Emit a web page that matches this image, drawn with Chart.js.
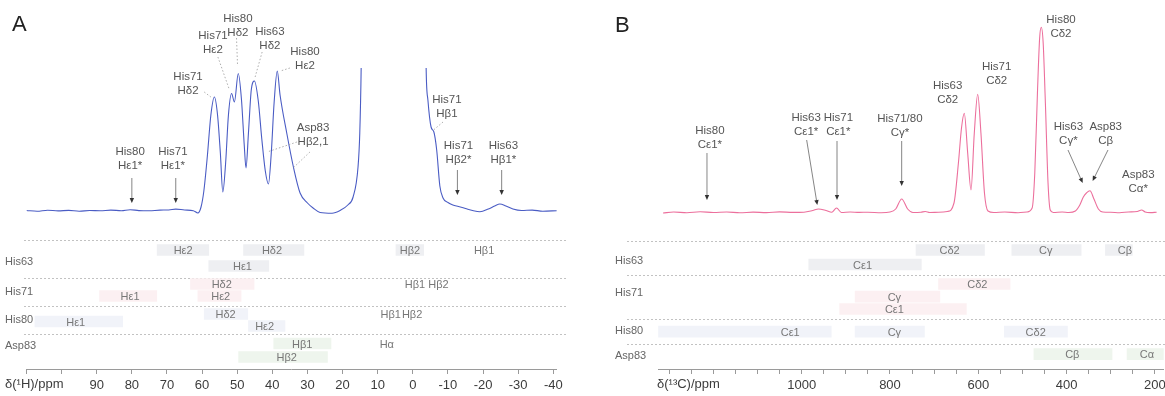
<!DOCTYPE html>
<html lang="en">
<head>
<meta charset="UTF-8">
<title>Paramagnetic shifts – His63/71/80, Asp83</title>
<script src="https://cdn.jsdelivr.net/npm/chart.js"></script>
<style>
  body { margin: 0; background: #fff; }
  #wrap { position: relative; width: 1165px; height: 396px; overflow: hidden; }
  #wrap canvas { position: absolute; }
</style>
</head>
<body>
<div id="wrap">
  <canvas id="specA" width="580" height="232" style="left:0;top:0"></canvas>
  <canvas id="barsA" width="580" height="164" style="left:0;top:232px"></canvas>
  <canvas id="specB" width="565" height="232" style="left:600px;top:0"></canvas>
  <canvas id="barsB" width="565" height="164" style="left:600px;top:232px"></canvas>
</div>
<script>
// ---- spectrum A: 1H shift (ppm) and intensity
const ppmA = [110, 107, 104, 101, 98, 95, 92, 89, 86, 83,
  80.5, 78, 75, 72, 69.5, 67.5, 65, 62.5, 61.2, 60.3,
  59.5, 58.5, 57.5, 56.5, 55.6, 54.8, 54.1, 53.3, 52.5, 51.6,
  50.8, 49.7, 48.8, 48.0, 47.5, 46.8, 46.0, 45.1, 44.0, 43.0,
  42.0, 41.1, 40.3, 39.5, 38.6, 37.8, 35.9, 34.0, 32.1, 30.0,
  28.4, 26.4, 23.0, 20.7, 18.5, 17.0, 15.6, 15.1, 14.7, 14.0,
  12.0, 5.0, 0.0, -2.0, -3.0, -3.8, -4.3, -5.2, -6.0, -6.8,
  -7.7, -8.6, -10.0, -11.4, -13.0, -15.0, -17.0, -19.1, -21.5, -23.3,
  -24.8, -26.5, -28.5, -31.0, -34.0, -37.0, -41.0];
const intA = [0.5, -0.3, 0.8, 0.1, 0.6, -0.2, 0.5, 0.2, 0.9, 0.3,
  1.3, 0.4, 0.2, 0.9, 1.0, 1.9, 1.0, 0.3, -2.0, 4,
  20, 55, 96, 114, 96, 58, 19, 48, 96, 117.5,
  109, 137.5, 112, 66, 43, 78, 121, 130, 110, 72,
  40, 27, 58, 108, 140, 116, 78, 44, 18, 8,
  3, -1.5, -2.2, 0.5, 6, 14, 44, 78, 145, 400,
  1500, 3000, 2500, 1000, 400, 142, 111, 84, 79, 61,
  25, 13, 8.5, 6, 4.5, 2.5, 0.5, -0.7, 2, 5,
  7, 5, 2, 0.5, 0.9, -0.2, 0.3];

// ---- spectrum B: 13C shift (ppm) and intensity
const ppmB = [1314, 1290, 1260, 1230, 1200, 1170, 1140, 1110, 1080, 1050,
  1020, 995, 975, 962, 945, 932, 921, 910, 890, 870,
  850, 820, 800, 787, 773.5, 760, 748, 730, 720, 710,
  690, 670, 655, 645, 638, 631.7, 624, 616.5, 609, 601.3,
  594, 586, 578, 565, 540, 510, 490, 478, 472, 466,
  461, 457.3, 453, 448, 442, 437, 430, 410, 395, 380,
  370, 362, 355, 347, 338, 328, 318, 300, 280, 260,
  240, 230, 222, 210, 196];
const intB = [0, 1, 0.3, 1.2, 0.5, 1, 0.2, 0.9, 0.4, 1.1,
  0.6, 0.8, 2.5, 4, 2.5, 0.8, 5, 0.5, 1, 0.6,
  0.8, 0.3, 1, 4, 14, 4, 0.5, 0.8, 1.5, 0.5,
  0.8, 1.5, 10, 50, 85, 99.7, 60, 23, 80, 118.7,
  80, 20, 2, 0.5, 1, 0.3, 1, 5, 40, 120,
  175, 185.7, 170, 110, 30, 3, 0.5, 1, 0.5, 2,
  8, 16, 20, 22.3, 14, 4, 1, 0.8, 0.3, 1,
  1.5, 3, 1, 0.4, 0.8];

// ---- predicted shift ranges, panel A (1H)
const residues = ['His63', 'His71', 'His80', 'Asp83'];
const barResA = ['His63', 'His63', 'His63', 'His63', 'His71', 'His71', 'His71', 'His80', 'His80', 'His80', 'Asp83', 'Asp83'];
const barAtomA = ['Hε2', 'Hδ2', 'Hβ2', 'Hε1', 'Hδ2', 'Hε2', 'Hε1', 'Hδ2', 'Hε1', 'Hε2', 'Hβ1', 'Hβ2'];
const barRowA = [0, 0, 0, 1, 0, 1, 1, 0, 1, 2, 0, 1];
const barFromA = [72.8, 48.2, 4.8, 58.1, 63.3, 61.2, 89.2, 59.4, 107.6, 46.8, 39.6, 49.6];
const barToA = [58.1, 31.0, -3.1, 41.0, 45.2, 48.9, 72.9, 47.0, 82.6, 36.4, 23.3, 24.3];
const barTagA = [65.4, 40.1, 0.8, 48.5, 54.4, 54.7, 80.5, 53.3, 96.0, 42.2, 31.5, 35.9];
// shifts given as text only
const tagResA = ['His63', 'His71', 'His71', 'His80', 'His80', 'Asp83'];
const tagAtomA = ['Hβ1', 'Hβ1', 'Hβ2', 'Hβ1', 'Hβ2', 'Hα'];
const tagRowA = [0, 0, 0, 0, 0, 0];
const tagPpmA = [-20.3, -0.6, -7.3, 6.3, 0.2, 7.4];

// ---- predicted shift ranges, panel B (13C)
const barResB = ['His63', 'His63', 'His63', 'His63', 'His71', 'His71', 'His71', 'His80', 'His80', 'His80', 'Asp83', 'Asp83'];
const barAtomB = ['Cδ2', 'Cγ', 'Cβ', 'Cε1', 'Cδ2', 'Cγ', 'Cε1', 'Cε1', 'Cγ', 'Cδ2', 'Cβ', 'Cα'];
const barRowB = [0, 0, 0, 1, 0, 1, 2, 0, 0, 0, 0, 0];
const barFromB = [741, 524, 312, 984, 690, 879, 914, 1340, 879, 541, 474, 263];
const barToB = [586, 367, 251, 729, 528, 687, 627, 933, 722, 398, 297, 150];
const barTagB = [665, 447, 268, 862, 602, 790, 790, 1026, 790, 470, 387, 218];

// ---- tick labels
const tickLabelsA = [90, 80, 70, 60, 50, 40, 30, 20, 10, 0, -10, -20, -30, -40];
const tickLabelsB = [1000, 800, 600, 400, 200];

// ---- peak annotations (ppm, intensity)
const notesA = [
  { text: ['His80', 'Hε1*'], at: [80.5, 59], arrow: [[80, 33], [80, 8]] },
  { text: ['His71', 'Hε1*'], at: [68.3, 59], arrow: [[67.5, 33], [67.5, 8]] },
  { text: ['His71', 'Hδ2'], at: [64.0, 134], dots: [[[59.4, 119], [57.5, 114]]] },
  { text: ['His71', 'Hε2'], at: [56.9, 175], dots: [[[55.5, 154], [52.2, 121]]] },
  { text: ['His80', 'Hδ2'], at: [49.8, 192], dots: [[[50.2, 173], [49.9, 145]]] },
  { text: ['His63', 'Hδ2'], at: [40.7, 179], dots: [[[42.9, 159], [44.9, 134]]] },
  { text: ['His80', 'Hε2'], at: [30.7, 159], dots: [[[35, 143], [37.7, 140]]] },
  { text: ['Asp83', 'Hβ2,1'], at: [28.4, 83], dots: [[[33, 69], [41.5, 59]], [[29.3, 59], [34.1, 43]]] },
  { text: ['His71', 'Hβ1'], at: [-9.7, 111], dots: [[[-8.6, 89], [-5.9, 81]]] },
  { text: ['His71', 'Hβ2*'], at: [-13.0, 65], arrow: [[-12.7, 41], [-12.7, 16]] },
  { text: ['His63', 'Hβ1*'], at: [-25.8, 65], arrow: [[-25.3, 41], [-25.3, 16]] }
];
const notesB = [
  { text: ['His80', 'Cε1*'], at: [1207.8, 82], arrow: [[1214.5, 60], [1214.5, 13]] },
  { text: ['His63', 'Cε1*'], at: [990, 95], arrow: [[988.7, 73], [964.7, 8]] },
  { text: ['His71', 'Cε1*'], at: [917, 95], arrow: [[920, 72], [920, 13]] },
  { text: ['His71/80', 'Cγ*'], at: [777.5, 94], arrow: [[773.5, 72], [773.5, 27]] },
  { text: ['His63', 'Cδ2'], at: [669.3, 127] },
  { text: ['His71', 'Cδ2'], at: [558.3, 146] },
  { text: ['His80', 'Cδ2'], at: [412.7, 193] },
  { text: ['His63', 'Cγ*'], at: [396, 86], arrow: [[396.8, 63], [363.5, 30]] },
  { text: ['Asp83', 'Cβ'], at: [311.4, 86], arrow: [[306.2, 63], [341, 32]] },
  { text: ['Asp83', 'Cα*'], at: [237.6, 38] }
];

// ---- layout of the range rows (y units of the bar charts, 0 = top)
const FONT = '"Liberation Sans", Arial, sans-serif';
const resColor = { His63: '#eeeff2', His71: '#fcf0f2', His80: '#f1f3f9', Asp83: '#eef5ed' };
const layoutA = {
  lanes: { His63: [12, 28], His71: [46, 58], His80: [76, 83.5, 88], Asp83: [105.5, 119] },
  names: { His63: 24, His71: 54, His80: 82, Asp83: 108 },
  seps: [2, 40, 68, 96], nameX: 5, sepX: [24, 567], titleX: 5, title: 'δ(¹H)/ppm'
};
const layoutB = {
  lanes: { His63: [12, 26.5], His71: [46, 58.6, 71], His80: [93.6], Asp83: [116.1] },
  names: { His63: 23, His71: 55, His80: 93, Asp83: 117.5 },
  seps: [3, 36.7, 80.7, 106.2], nameX: 15, sepX: [27, 565], titleX: 57, title: 'δ(¹³C)/ppm'
};

function notesPlugin(notes, letter, letterPos) {
  return {
    id: 'notes',
    afterDatasetsDraw(chart) {
      const { ctx, scales: { x, y } } = chart;
      const P = p => [x.getPixelForValue(p[0]), y.getPixelForValue(p[1])];
      ctx.save();
      ctx.font = '11.5px ' + FONT;
      ctx.textAlign = 'center';
      ctx.textBaseline = 'middle';
      notes.forEach(n => {
        const [tx, ty] = P(n.at);
        ctx.fillStyle = '#555';
        n.text.forEach((t, i) => ctx.fillText(t, tx, ty + i * 14));
        (n.dots || []).forEach(seg => {
          const a = P(seg[0]), b = P(seg[1]);
          ctx.save();
          ctx.strokeStyle = '#9a9a9a';
          ctx.lineWidth = 0.8;
          ctx.setLineDash([1.5, 2]);
          ctx.beginPath(); ctx.moveTo(a[0], a[1]); ctx.lineTo(b[0], b[1]); ctx.stroke();
          ctx.restore();
        });
        if (n.arrow) {
          const a = P(n.arrow[0]), b = P(n.arrow[1]);
          const ang = Math.atan2(b[1] - a[1], b[0] - a[0]);
          ctx.save();
          ctx.strokeStyle = '#666';
          ctx.fillStyle = '#333';
          ctx.lineWidth = 0.8;
          ctx.beginPath();
          ctx.moveTo(a[0], a[1]);
          ctx.lineTo(b[0] - 4 * Math.cos(ang), b[1] - 4 * Math.sin(ang));
          ctx.stroke();
          ctx.translate(b[0], b[1]);
          ctx.rotate(ang);
          ctx.beginPath(); ctx.moveTo(0, 0); ctx.lineTo(-5, -2.2); ctx.lineTo(-5, 2.2); ctx.closePath(); ctx.fill();
          ctx.restore();
        }
      });
      ctx.font = '22px ' + FONT;
      ctx.fillStyle = '#222';
      ctx.textAlign = 'left';
      ctx.textBaseline = 'alphabetic';
      ctx.fillText(letter, letterPos[0], letterPos[1]);
      ctx.restore();
    }
  };
}

function spectrum(id, xs, ys, color, xr, yr, pad, notes, letter, letterPos) {
  return new Chart(document.getElementById(id), {
    type: 'line',
    data: {
      datasets: [{
        data: xs.map((v, i) => ({ x: v, y: ys[i] })),
        borderColor: color,
        borderWidth: 1.1,
        pointRadius: 0,
        fill: false,
        cubicInterpolationMode: 'monotone'
      }]
    },
    options: {
      responsive: false,
      animation: false,
      events: [],
      layout: { padding: pad },
      plugins: { legend: { display: false }, tooltip: { enabled: false } },
      scales: {
        x: { type: 'linear', reverse: true, min: xr[0], max: xr[1], display: false },
        y: { type: 'linear', min: yr[0], max: yr[1], display: false }
      }
    },
    plugins: [notesPlugin(notes, letter, letterPos)]
  });
}

function lanePlugin(L, tags) {
  return {
    id: 'lanes',
    beforeDatasetsDraw(chart) {
      const { ctx, scales: { y } } = chart;
      ctx.save();
      ctx.strokeStyle = '#c2c2c2';
      ctx.lineWidth = 1;
      ctx.setLineDash([2, 2]);
      L.seps.forEach(s => {
        const py = Math.round(y.getPixelForValue(s)) + 0.5;
        ctx.beginPath(); ctx.moveTo(L.sepX[0], py); ctx.lineTo(L.sepX[1], py); ctx.stroke();
      });
      ctx.restore();
    },
    afterDatasetsDraw(chart) {
      const { ctx, scales: { x, y }, chartArea } = chart;
      ctx.save();
      ctx.font = '11px ' + FONT;
      ctx.fillStyle = '#777';
      ctx.textAlign = 'center';
      ctx.textBaseline = 'middle';
      tags.forEach(t => ctx.fillText(t.atom, x.getPixelForValue(t.ppm), y.getPixelForValue(L.lanes[t.res][t.row]) + 1));
      ctx.fillStyle = '#666';
      ctx.textAlign = 'left';
      residues.forEach(r => ctx.fillText(r, L.nameX, y.getPixelForValue(L.names[r])));
      ctx.font = '13px ' + FONT;
      ctx.fillStyle = '#3c3c3c';
      ctx.textBaseline = 'top';
      ctx.fillText(L.title, L.titleX, chartArea.bottom + 9);
      ctx.restore();
    }
  };
}

function ranges(id, L, res, atoms, rows, from, to, tagAt, extra, xr, pad, step, labels) {
  const tags = res.map((r, i) => ({ res: r, atom: atoms[i], row: rows[i], ppm: tagAt[i] })).concat(extra);
  return new Chart(document.getElementById(id), {
    type: 'bar',
    data: {
      datasets: [{
        data: res.map((r, i) => ({ x: [from[i], to[i]], y: L.lanes[r][rows[i]] })),
        backgroundColor: res.map(r => resColor[r]),
        borderWidth: 0,
        barThickness: 11
      }]
    },
    options: {
      indexAxis: 'y',
      responsive: false,
      animation: false,
      events: [],
      layout: { padding: pad },
      plugins: { legend: { display: false }, tooltip: { enabled: false } },
      scales: {
        x: {
          type: 'linear', reverse: true, min: xr[0], max: xr[1], offset: false,
          border: { display: true, color: '#9a9a9a', width: 1 },
          grid: { display: true, drawOnChartArea: false, drawTicks: true, tickLength: 5, color: '#9a9a9a' },
          ticks: {
            stepSize: step, includeBounds: false, autoSkip: false, maxRotation: 0, padding: 4,
            color: '#3c3c3c', font: { family: FONT, size: 13 },
            callback: v => labels.includes(Math.round(v)) ? String(Math.round(v)) : ''
          },
          afterFit: s => { s.height = 27; s.paddingLeft = 0; s.paddingRight = 0; }
        },
        y: { type: 'linear', reverse: true, min: 0, max: 131, offset: false, grace: 0, display: false }
      }
    },
    plugins: [lanePlugin(L, tags)]
  });
}

const textOnlyA = tagResA.map((r, i) => ({ res: r, atom: tagAtomA[i], row: tagRowA[i], ppm: tagPpmA[i] }));

spectrum('specA', ppmA, intA, '#4a5cc4', [-41, 110], [-21, 143],
  { left: 26.5, right: 23.2, top: 68, bottom: 0 }, notesA, 'A', [12, 31]);
spectrum('specB', ppmB, intB, '#ec6f9c', [180, 1325], [-19, 203],
  { left: 58.2, right: 1.3, top: 10, bottom: 0 }, notesB, 'B', [15, 32]);

ranges('barsA', layoutA, barResA, barAtomA, barRowA, barFromA, barToA, barTagA, textOnlyA,
  [-41, 110], { left: 26.5, right: 23.2, top: 6, bottom: 0 }, 10, tickLabelsA);
ranges('barsB', layoutB, barResB, barAtomB, barRowB, barFromB, barToB, barTagB, [],
  [180, 1325], { left: 58.2, right: 1.3, top: 6, bottom: 0 }, 50, tickLabelsB);
</script>
</body>
</html>
